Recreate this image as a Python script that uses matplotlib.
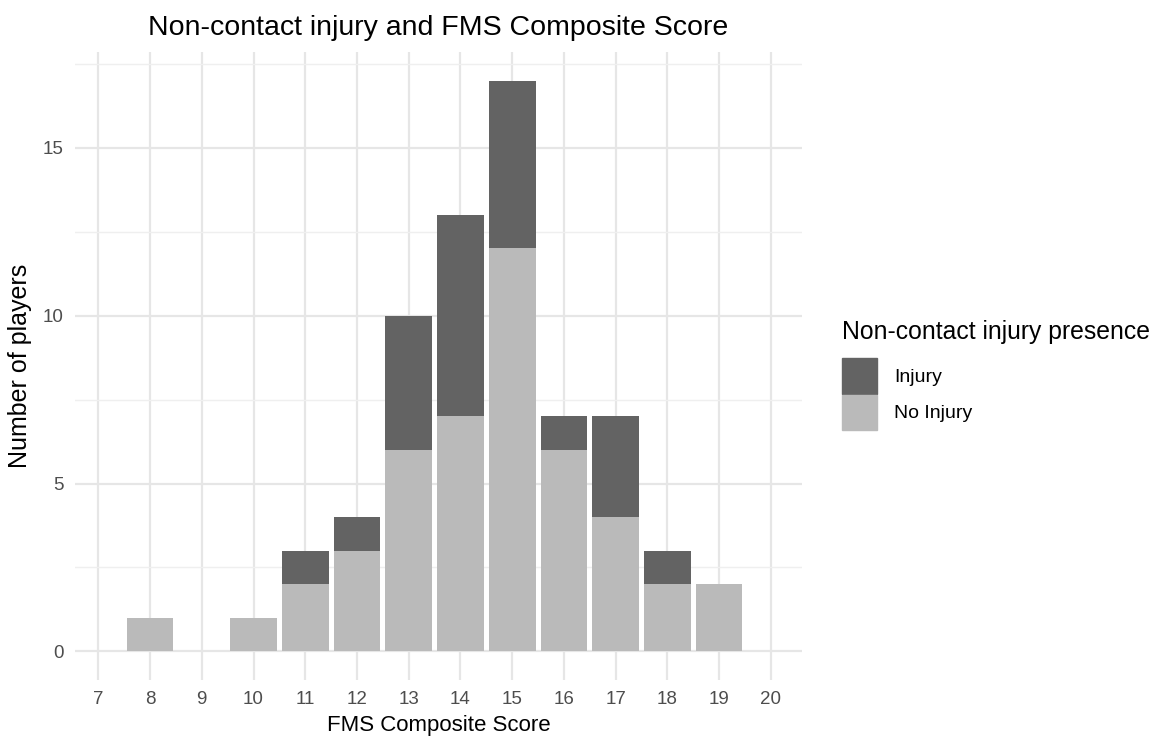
import matplotlib.pyplot as plt
from matplotlib.patches import Patch

plt.rcParams['font.family'] = ['Liberation Sans', 'DejaVu Sans']

# Data
scores = [8, 10, 11, 12, 13, 14, 15, 16, 17, 18, 19]
no_injury = [1, 1, 2, 3, 6, 7, 12, 6, 4, 2, 2]
injury = [0, 0, 1, 1, 4, 6, 5, 1, 3, 1, 0]

col_injury = '#636363'
col_no_injury = '#bababa'

fig = plt.figure(figsize=(11.52, 7.47), dpi=100)
W, H = 1152, 747
ax = fig.add_axes([75 / W, 1 - 680 / H, (802 - 75) / W, (680 - 52) / H])

ax.bar(scores, no_injury, width=0.9, color=col_no_injury, zorder=2)
ax.bar(scores, injury, width=0.9, bottom=no_injury, color=col_injury, zorder=2)

ax.set_xlim(6.55, 20.6)
ax.set_ylim(-0.85, 17.85)
ax.set_xticks(range(7, 21))
ax.set_yticks([0, 5, 10, 15])
ax.set_yticks([2.5, 7.5, 12.5, 17.5], minor=True)

ax.grid(True, which='major', color='#e6e6e6', linewidth=1.6, zorder=0)
ax.grid(True, which='minor', axis='y', color='#efefef', linewidth=1.0, zorder=0)
ax.set_axisbelow(True)
for s in ax.spines.values():
    s.set_visible(False)
ax.tick_params(which='both', length=0, labelsize=13.5, labelcolor='#4d4d4d', pad=8)

ax.set_xlabel('FMS Composite Score', fontsize=16, labelpad=5)
ax.set_ylabel('Number of players', fontsize=18, labelpad=8)
ax.set_title('Non-contact injury and FMS Composite Score', fontsize=20.5, pad=12)

handles = [Patch(color=col_injury, label='Injury'),
           Patch(color=col_no_injury, label='No Injury')]
leg = fig.legend(handles=handles, title='Non-contact injury presence',
                 loc='upper left', bbox_to_anchor=(842 / W, 1 - 320 / H),
                 frameon=False, fontsize=14, title_fontsize=17.8,
                 handlelength=1.8, handleheight=2.45, handletextpad=0.9,
                 labelspacing=0.05, borderaxespad=0, borderpad=0)
leg._legend_box.align = 'left'
leg._legend_box.sep = 10

fig.savefig('out.png', dpi=100)
